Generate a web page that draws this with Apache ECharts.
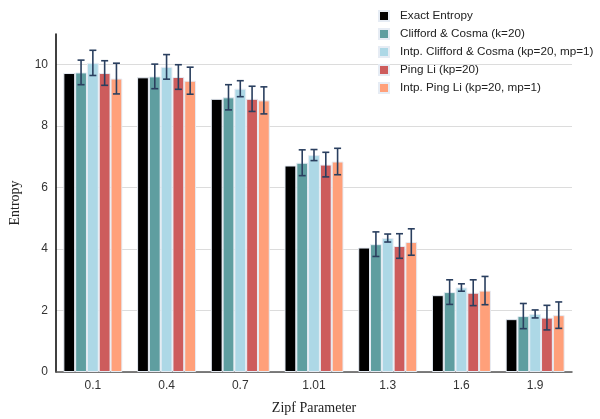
<!DOCTYPE html>
<html lang="en">
<head>
  <meta charset="UTF-8">
  <title>Entropy vs Zipf Parameter</title>
  <script src="https://cdn.jsdelivr.net/npm/echarts@6/dist/echarts.min.js"></script>
  <style>html,body{margin:0;padding:0;background:#fff;}</style>
</head>
<body>
<div id="main" style="width:600px;height:419px;"></div>
<script>
  // categories (Zipf parameter)
  var zipf = ['0.1', '0.4', '0.7', '1.01', '1.3', '1.6', '1.9'];

  var exact   = [9.73, 9.59, 8.89, 6.72, 4.05, 2.50, 1.72];
  var ccVal   = [9.75, 9.62, 8.94, 6.81, 4.16, 2.60, 1.82];
  var ccErr   = [0.40, 0.40, 0.41, 0.42, 0.40, 0.40, 0.41];
  var iccVal  = [10.06, 9.93, 9.22, 7.06, 4.36, 2.75, 1.89];
  var iccErr  = [0.41, 0.40, 0.26, 0.18, 0.13, 0.12, 0.13];
  var plVal   = [9.73, 9.60, 8.89, 6.75, 4.10, 2.58, 1.77];
  var plErr   = [0.40, 0.40, 0.41, 0.40, 0.40, 0.42, 0.40];
  var iplVal  = [9.55, 9.48, 8.84, 6.85, 4.23, 2.65, 1.85];
  var iplErr  = [0.50, 0.44, 0.44, 0.43, 0.43, 0.46, 0.43];

  var names = ['Exact Entropy', 'Clifford & Cosma (k=20)', 'Intp. Clifford & Cosma (kp=20, mp=1)',
               'Ping Li (kp=20)', 'Intp. Ping Li (kp=20, mp=1)'];
  var colors = ['#000000', '#5f9ea0', '#add8e6', '#cd5c5c', '#ffa07a'];
  var values = [exact, ccVal, iccVal, plVal, iplVal];
  var errors = [null, ccErr, iccErr, plErr, iplErr];

  var nBars = 5, groupFrac = 0.8;

  var series = [];
  values.forEach(function (v, i) {
    series.push({
      name: names[i],
      type: 'bar',
      data: v,
      barGap: '0%',
      barCategoryGap: '20%',
      itemStyle: { color: colors[i], borderColor: '#e6ecf4', borderWidth: 1 },
      z: 2
    });
  });

  // error bars drawn as custom series on top of the bars
  errors.forEach(function (err, i) {
    if (!err) return;
    var data = values[i].map(function (v, k) { return [k, v - err[k], v + err[k]]; });
    series.push({
      type: 'custom',
      name: names[i],
      z: 5,
      data: data,
      encode: { x: 0, y: [1, 2] },
      renderItem: function (params, api) {
        var band = api.size([1, 0])[0];
        var bw = band * groupFrac / nBars;
        var off = (i - (nBars - 1) / 2) * bw;
        var lo = api.coord([api.value(0), api.value(1)]);
        var hi = api.coord([api.value(0), api.value(2)]);
        var x = lo[0] + off, cap = 3.5;
        var st = { stroke: '#2a3f5f', lineWidth: 1.6 };
        return {
          type: 'group',
          children: [
            { type: 'line', shape: { x1: x, y1: lo[1], x2: x, y2: hi[1] }, style: st },
            { type: 'line', shape: { x1: x - cap, y1: lo[1], x2: x + cap, y2: lo[1] }, style: st },
            { type: 'line', shape: { x1: x - cap, y1: hi[1], x2: x + cap, y2: hi[1] }, style: st }
          ]
        };
      }
    });
  });

  var myChart = echarts.init(document.getElementById('main'));
  myChart.setOption({
    animation: false,
    backgroundColor: '#ffffff',
    grid: { left: 56, right: 28, top: 34, bottom: 47, outerBoundsMode: 'none', containLabel: false },
    legend: {
      orient: 'vertical',
      left: 373,
      top: 5,
      itemWidth: 10,
      itemHeight: 10,
      itemGap: 6,
      icon: 'rect',
      data: names,
      textStyle: { fontFamily: 'Liberation Sans', fontSize: 11.7, lineHeight: 12, color: '#222', padding: [0, 0, 0, 6] }
    },
    xAxis: {
      type: 'category',
      data: zipf,
      name: 'Zipf Parameter',
      nameLocation: 'middle',
      nameGap: 29,
      nameTextStyle: { fontFamily: 'Liberation Serif', fontSize: 14, color: '#222' },
      axisLine: { lineStyle: { color: '#555', width: 1.5 } },
      axisTick: { show: false },
      axisLabel: { fontFamily: 'Liberation Sans', fontSize: 12, color: '#333', margin: 8 }
    },
    yAxis: {
      type: 'value',
      min: 0,
      max: 11,
      interval: 2,
      name: 'Entropy',
      nameLocation: 'middle',
      nameGap: 34,
      nameTextStyle: { fontFamily: 'Liberation Serif', fontSize: 14, color: '#222' },
      axisLine: { show: true, lineStyle: { color: '#000', width: 1.5 } },
      axisTick: { show: false },
      axisLabel: { fontFamily: 'Liberation Sans', fontSize: 12, color: '#333', showMaxLabel: false, margin: 8 },
      splitLine: { showMaxLine: false, lineStyle: { color: '#dcdcdc', width: 1 } }
    },
    series: series
  });
</script>
</body>
</html>
